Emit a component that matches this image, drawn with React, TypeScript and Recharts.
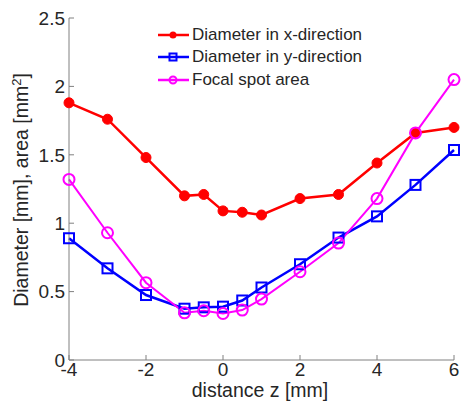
import { LineChart, Line, XAxis, YAxis } from "recharts";

const zs = [-4, -3, -2, -1, -0.5, 0, 0.5, 1, 2, 3, 4, 5, 6];
const diamX = [1.88, 1.76, 1.48, 1.2, 1.21, 1.09, 1.08, 1.06, 1.18, 1.21, 1.44, 1.66, 1.7];
const diamY = [0.89, 0.67, 0.475, 0.375, 0.385, 0.39, 0.435, 0.53, 0.7, 0.895, 1.05, 1.28, 1.535];
const spotArea = [1.32, 0.93, 0.565, 0.345, 0.36, 0.34, 0.365, 0.445, 0.645, 0.855, 1.18, 1.66, 2.05];

const xTicks = [-4, -2, 0, 2, 4, 6];
const yTicks = [0, 0.5, 1, 1.5, 2, 2.5];

const data = zs.map((z, i) => ({ z, dx: diamX[i], dy: diamY[i], area: spotArea[i] }));

const FONT = "Arial, 'Liberation Sans', sans-serif";
const AXIS = "#808080";
const TXT = "#262626";

const XTick = (props: any) => {
  const { x, y, payload } = props;
  const axisY = y - 3;
  return (
    <g>
      <line x1={x} x2={x} y1={axisY} y2={axisY - 5} stroke={AXIS} />
      <text x={x} y={y} dy="0.71em" textAnchor="middle" fontSize={19} fill={TXT} fontFamily={FONT}>
        {payload.value}
      </text>
    </g>
  );
};

const YTick = (props: any) => {
  const { x, y, payload } = props;
  const axisX = x + 4;
  return (
    <g>
      <line x1={axisX} x2={axisX + 5} y1={y} y2={y} stroke={AXIS} />
      <text x={x} y={y} dy="0.355em" textAnchor="end" fontSize={19} fill={TXT} fontFamily={FONT}>
        {payload.value}
      </text>
    </g>
  );
};

const YLabel = () => (
  <text
    x={28}
    y={190}
    transform="rotate(-90, 28, 190)"
    textAnchor="middle"
    fontSize={19.5}
    fill={TXT}
    fontFamily={FONT}
  >
    Diameter [mm], area [mm
    <tspan dy={-7} fontSize={13}>2</tspan>
    <tspan dy={7}>]</tspan>
  </text>
);

const XLabel = () => (
  <text x={260} y={397} textAnchor="middle" fontSize={19.5} fill={TXT} fontFamily={FONT}>
    distance z [mm]
  </text>
);

const SquareDot = (props: any) => {
  const { cx, cy, index } = props;
  return (
    <rect key={"sq" + index} x={cx - 5} y={cy - 5} width={10} height={10} fill="none" stroke="#0000ff" strokeWidth={2} />
  );
};

const legendItems = [
  { label: "Diameter in x-direction", color: "#ff0000", kind: "dot" },
  { label: "Diameter in y-direction", color: "#0000ff", kind: "square" },
  { label: "Focal spot area", color: "#ff00ff", kind: "circle" },
];

const LegendBox = () => (
  <div style={{ position: "absolute", left: 156, top: 24, fontFamily: FONT, fontSize: 17, color: TXT }}>
    {legendItems.map((it) => (
      <div key={it.label} style={{ display: "flex", alignItems: "center", height: 22.3 }}>
        <svg width={35} height={14} style={{ marginRight: 1 }}>
          <line x1={2} x2={33} y1={7} y2={7} stroke={it.color} strokeWidth={2.5} />
          {it.kind === "dot" && <circle cx={17} cy={7} r={3.5} fill={it.color} />}
          {it.kind === "square" && (
            <rect x={13.5} y={3.5} width={7} height={7} fill="none" stroke={it.color} strokeWidth={2} />
          )}
          {it.kind === "circle" && <circle cx={17} cy={7} r={3.5} fill="none" stroke={it.color} strokeWidth={2} />}
        </svg>
        <span>{it.label}</span>
      </div>
    ))}
  </div>
);

export default function App() {
  return (
    <div style={{ position: "absolute", left: 0, top: 0, width: 462, height: 404, background: "#fff" }}>
      <LineChart width={462} height={404} data={data} margin={{ top: 18, right: 8, left: 0, bottom: 0 }}>
        <XAxis
          dataKey="z"
          type="number"
          domain={[-4, 6]}
          ticks={xTicks}
          height={44}
          tickSize={0}
          tickMargin={3}
          tickLine={false}
          axisLine={{ stroke: AXIS }}
          tick={<XTick />}
          label={<XLabel />}
          interval={0}
        />
        <YAxis
          type="number"
          domain={[0, 2.5]}
          ticks={yTicks}
          width={69}
          tickSize={0}
          tickMargin={4}
          tickLine={false}
          axisLine={{ stroke: AXIS }}
          tick={<YTick />}
          label={<YLabel />}
          interval={0}
        />
        <Line
          dataKey="dx"
          stroke="#ff0000"
          strokeWidth={2.5}
          dot={{ r: 5, fill: "#ff0000", stroke: "#ff0000", strokeWidth: 1 }}
          isAnimationActive={false}
        />
        <Line dataKey="dy" stroke="#0000ff" strokeWidth={2.5} dot={<SquareDot />} isAnimationActive={false} />
        <Line
          dataKey="area"
          stroke="#ff00ff"
          strokeWidth={2}
          dot={{ r: 5.5, fill: "none", stroke: "#ff00ff", strokeWidth: 2 }}
          isAnimationActive={false}
        />
      </LineChart>
      <LegendBox />
    </div>
  );
}
